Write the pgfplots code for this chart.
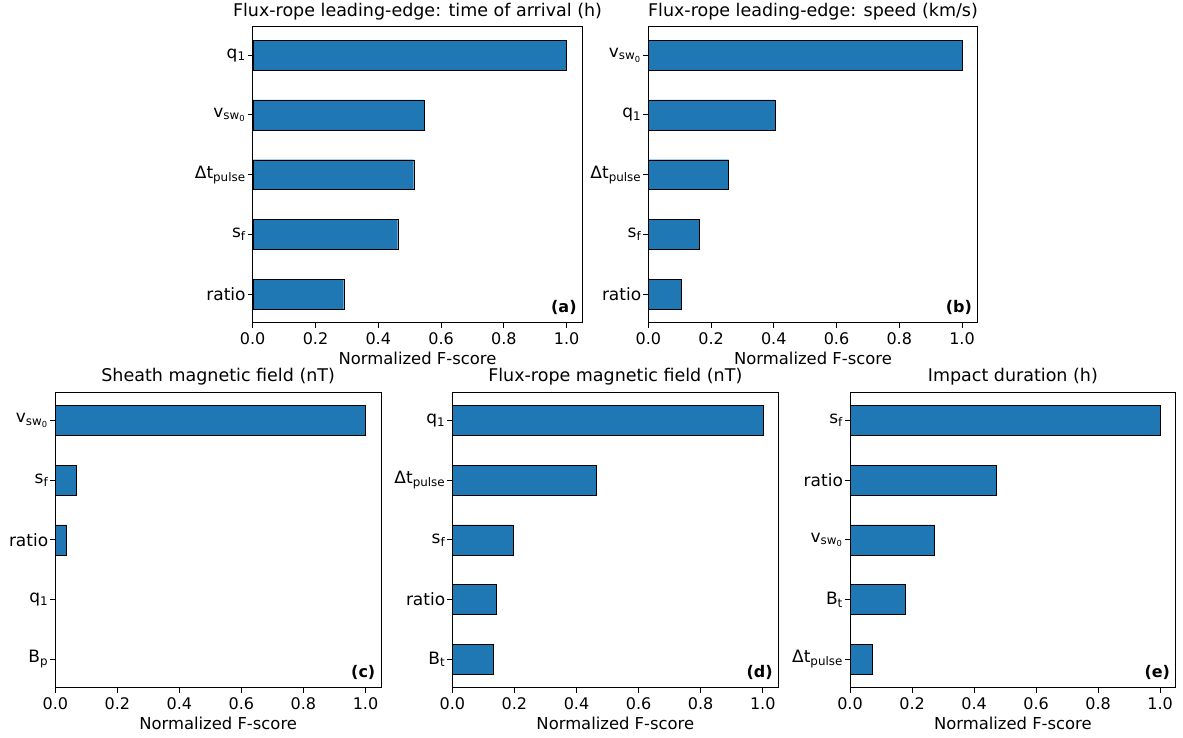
\documentclass[border=0pt]{standalone}
\usepackage{fontspec}
\setmainfont{DejaVu Sans}
\usepackage{pgfplots}
\pgfplotsset{compat=1.18}
\definecolor{barblue}{HTML}{1F77B4}
\newcommand{\vsw}{v\textsubscript{sw\textsubscript{0}}}
\newcommand{\dtp}{Δt\textsubscript{pulse}}
\pgfplotsset{
  panel/.style={
    scale only axis,
    height=296pt,
    xmin=0, xmax=1.05, ymin=-0.475, ymax=4.475,
    xbar, bar width=0.5,
    axis on top,
    xtick={0,0.2,0.4,0.6,0.8,1},
    ytick={0,1,2,3,4},
    tick pos=left,
    /pgf/number format/assume math mode=true,
    x tick label style={/pgf/number format/.cd, fixed, fixed zerofill, precision=1, /tikz/.cd},
    tick align=outside,
    major tick length=4.9pt,
    every tick/.style={black, line width=0.8pt},
    axis line style={black, line width=0.8pt},
    xticklabel style={font=\fontsize{16}{19}\selectfont, anchor=north, inner sep=0pt},
    yticklabel style={font=\fontsize{17}{20}\selectfont, anchor=east, inner sep=0pt},
    xticklabel shift=4.9pt,
    yticklabel shift=2pt,
    xlabel={Normalized F-score},
    xlabel style={font=\fontsize{16.4}{19}\selectfont, at={(axis description cs:0.5,0)}, anchor=base, yshift=-42pt, inner sep=0pt},
    title style={font=\fontsize{17.5}{20}\selectfont, at={(axis description cs:0.5,1)}, anchor=base, yshift=4pt, inner sep=0pt},
    cycle list={{fill=barblue, draw=black!75, line width=0.5pt}},
  }
}
\newcommand{\plabel}[1]{\node[anchor=base east, inner sep=0pt, font=\bfseries\fontsize{16}{19}\selectfont] at (rel axis cs:1,0) [xshift=-5.5pt, yshift=10pt] {#1};}
\begin{document}
\begin{tikzpicture}
\useasboundingbox (0pt,0pt) rectangle (1183pt,738pt);
% (a)
\begin{axis}[panel, width=329.6pt, at={(252.7pt,415.3pt)}, anchor=south west,
  title={Flux-rope leading-edge: time of arrival (h)},
  yticklabels={ratio, s\textsubscript{f}, \dtp, \vsw, q\textsubscript{1}}]
\addplot coordinates {(0.290,0) (0.462,1) (0.513,2) (0.546,3) (1.0,4)};
\plabel{(a)}
\end{axis}
% (b)
\begin{axis}[panel, width=329.4pt, at={(648.3pt,415.3pt)}, anchor=south west,
  title={Flux-rope leading-edge: speed (km/s)},
  yticklabels={ratio, s\textsubscript{f}, \dtp, q\textsubscript{1}, \vsw}]
\addplot coordinates {(0.106,0) (0.162,1) (0.256,2) (0.404,3) (1.0,4)};
\plabel{(b)}
\end{axis}
% (c)
\begin{axis}[panel, height=295.7pt, width=325.7pt, at={(55.3pt,50.3pt)}, anchor=south west,
  title={Sheath magnetic field (nT)},
  yticklabels={B\textsubscript{p}, q\textsubscript{1}, ratio, s\textsubscript{f}, \vsw}]
\addplot coordinates {(0.001,0) (0.001,1) (0.035,2) (0.067,3) (1.0,4)};
\plabel{(c)}
\end{axis}
% (d)
\begin{axis}[panel, height=295.7pt, width=326pt, at={(452.3pt,50.3pt)}, anchor=south west,
  title={Flux-rope magnetic field (nT)},
  yticklabels={B\textsubscript{t}, ratio, s\textsubscript{f}, \dtp, q\textsubscript{1}}]
\addplot coordinates {(0.132,0) (0.142,1) (0.197,2) (0.465,3) (1.0,4)};
\plabel{(d)}
\end{axis}
% (e)
\begin{axis}[panel, height=295.7pt, width=325.7pt, at={(850pt,50.3pt)}, anchor=south west,
  title={Impact duration (h)},
  yticklabels={\dtp, B\textsubscript{t}, \vsw, ratio, s\textsubscript{f}}]
\addplot coordinates {(0.073,0) (0.178,1) (0.270,2) (0.470,3) (1.0,4)};
\plabel{(e)}
\end{axis}
\end{tikzpicture}
\end{document}
